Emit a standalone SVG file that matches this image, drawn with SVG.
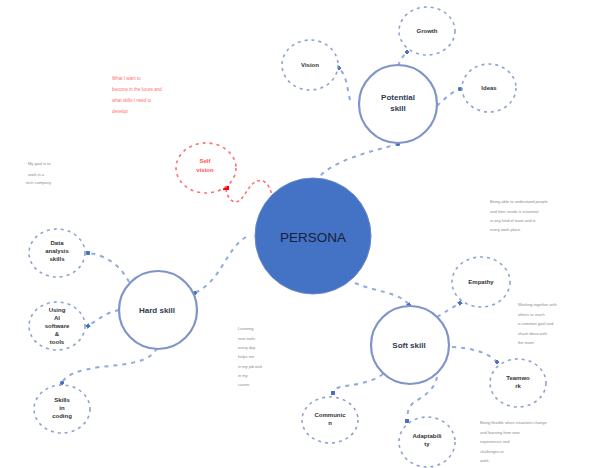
<svg xmlns="http://www.w3.org/2000/svg" width="593" height="468" viewBox="0 0 593 468">
<defs>
<marker id="m" viewBox="0 0 4 4" refX="2" refY="2" markerWidth="4" markerHeight="4" markerUnits="userSpaceOnUse" orient="auto"><rect width="4" height="4" fill="#4472C4"/></marker>
<marker id="mr" viewBox="0 0 4 6" refX="2" refY="3" markerWidth="4" markerHeight="6" markerUnits="userSpaceOnUse" orient="auto"><rect width="4" height="6" fill="#FF0000"/></marker>
</defs>
<style>
.big{fill:#fff;stroke:#7F95C8;stroke-width:2.2}
.small{fill:#fff;stroke:#8FA3CC;stroke-width:1.6;stroke-dasharray:3 4}
.red{fill:#fff;stroke:#FF7070;stroke-width:1.6;stroke-dasharray:3 4}
.c{fill:none;stroke:#8FAADC;stroke-width:2;stroke-dasharray:4 5;marker-end:url(#m)}
.cr{fill:none;stroke:#FF7070;stroke-width:1.6;stroke-dasharray:3 3}
.t{font-family:"Liberation Sans",Arial,sans-serif;text-anchor:middle;fill:#333;font-size:6px;font-weight:bold}
.tb{font-family:"Liberation Sans",Arial,sans-serif;text-anchor:middle;fill:#2F3B52;font-size:8px;font-weight:bold}
.n{font-family:"Liberation Sans",Arial,sans-serif;fill:#8A8A8A;font-size:4px}
.nr{font-family:"Liberation Sans",Arial,sans-serif;fill:#FF7070;font-size:4.5px}
</style>
<g id="connectors">
<path class="c" d="M315,182 C330,160 370,152 398,144"/>
<path class="c" d="M350,100 C347,88 347,76 339,68"/>
<path class="c" d="M398,66 C400,60 403,56 407,52"/>
<path class="c" d="M437,106 C445,98 452,92 460,89"/>
<path class="c" d="M246,237 C225,250 222,280 195,293"/>
<path class="c" d="M129,282 C122,268 108,255 88,253"/>
<path class="c" d="M119,310 C108,312 100,318 88,326"/>
<path class="c" d="M157,348 C150,362 130,364 100,367 C80,370 66,374 62,383"/>
<path class="c" d="M355,283 C375,292 400,292 409,305"/>
<path class="c" d="M437,317 C445,312 452,308 460,303"/>
<path class="c" d="M452,347 C472,348 487,352 497,362"/>
<path class="c" d="M383,374 C370,384 350,385 340,387 C335,389 333,390 333,393"/>
<path class="c" d="M437,377 C434,392 420,398 413,403 C408,408 407,414 407,421"/>
<path class="cr" d="M272,199 C272,188 265,178 257,181 C247,185 245,200 236,202 C230,202 226,194 226,188" marker-end="url(#mr)"/>
</g>
<g id="persona">
<circle cx="313" cy="236" r="58" fill="#4472C4" stroke="#6A88C8" stroke-width="1"/>
<text x="313" y="242" font-family="Liberation Sans,Arial,sans-serif" font-size="13.5" text-anchor="middle" fill="#15213A">PERSONA</text>
</g>
<g id="potential">
<circle class="big" cx="398" cy="104" r="39"/>
<text class="tb" x="398" y="100">Potential</text>
<text class="tb" x="398" y="111">skill</text>
</g>
<g id="pot-top"><ellipse class="small" cx="427" cy="31" rx="28" ry="24"/><text class="t" x="427" y="33">Growth</text></g>
<g id="pot-left"><ellipse class="small" cx="310" cy="65" rx="28" ry="25"/><text class="t" x="310" y="67">Vision</text></g>
<g id="pot-right"><ellipse class="small" cx="489" cy="88" rx="27" ry="24"/><text class="t" x="489" y="90">Ideas</text></g>
<g id="hard">
<circle class="big" cx="158" cy="310" r="39"/>
<text class="tb" x="157" y="313">Hard skill</text>
</g>
<g id="hard-1"><ellipse class="small" cx="57" cy="253" rx="28" ry="24"/>
<text class="t" x="57" y="245">Data</text><text class="t" x="57" y="253">analysis</text><text class="t" x="57" y="261">skills</text></g>
<g id="hard-2"><ellipse class="small" cx="57" cy="326" rx="28" ry="24"/>
<text class="t" x="57" y="312">Using</text><text class="t" x="57" y="320">AI</text><text class="t" x="57" y="328">software</text><text class="t" x="57" y="336">&amp;</text><text class="t" x="57" y="344">tools</text></g>
<g id="hard-3"><ellipse class="small" cx="62" cy="409" rx="28" ry="24"/>
<text class="t" x="62" y="402">Skills</text><text class="t" x="62" y="410">in</text><text class="t" x="62" y="418">coding</text></g>
<g id="soft">
<circle class="big" cx="410" cy="345" r="39"/>
<text class="tb" x="409" y="348">Soft skill</text>
</g>
<g id="soft-1"><ellipse class="small" cx="481" cy="282" rx="29" ry="25"/><text class="t" x="481" y="284">Empathy</text></g>
<g id="soft-2"><ellipse class="small" cx="518" cy="383" rx="28" ry="24"/><text class="t" x="518" y="380">Teamwo</text><text class="t" x="518" y="388">rk</text></g>
<g id="soft-3"><ellipse class="small" cx="330" cy="420" rx="28" ry="23"/><text class="t" x="330" y="417">Communic</text><text class="t" x="330" y="425">n</text></g>
<g id="soft-4"><ellipse class="small" cx="427" cy="442" rx="28" ry="25"/><text class="t" x="427" y="438">Adaptabili</text><text class="t" x="427" y="446">ty</text></g>
<g id="self">
<ellipse class="red" cx="206" cy="168" rx="30" ry="25"/>
<text x="205" y="163" font-family="Liberation Sans,Arial,sans-serif" font-size="6" font-weight="bold" text-anchor="middle" fill="#FF5050">Self</text>
<text x="205" y="172" font-family="Liberation Sans,Arial,sans-serif" font-size="6" font-weight="bold" text-anchor="middle" fill="#FF5050">vision</text>
</g>
<g id="notes">
<text class="nr" x="112" y="80">What I want to</text>
<text class="nr" x="112" y="91">become in the future and</text>
<text class="nr" x="112" y="102">what skills I need to</text>
<text class="nr" x="112" y="113">develop</text>
<text class="n" x="28" y="165">My goal is to</text>
<text class="n" x="28" y="176">work in a</text>
<text class="n" x="26" y="184">tech company</text>
<text class="n" x="490" y="203">Being able to understand people</text>
<text class="n" x="490" y="213">and their needs is essential</text>
<text class="n" x="490" y="222">in any kind of team and in</text>
<text class="n" x="490" y="231">every work place.</text>
<text class="n" x="238" y="330">Learning</text>
<text class="n" x="238" y="340">new tools</text>
<text class="n" x="238" y="349">every day</text>
<text class="n" x="238" y="358">helps me</text>
<text class="n" x="238" y="368">in my job and</text>
<text class="n" x="238" y="377">in my</text>
<text class="n" x="238" y="386">career.</text>
<text class="n" x="518" y="306">Working together with</text>
<text class="n" x="518" y="316">others to reach</text>
<text class="n" x="518" y="325">a common goal and</text>
<text class="n" x="518" y="335">share ideas with</text>
<text class="n" x="518" y="344">the team.</text>
<text class="n" x="480" y="424">Being flexible when situations change</text>
<text class="n" x="480" y="434">and learning from new</text>
<text class="n" x="480" y="443">experiences and</text>
<text class="n" x="480" y="453">challenges at</text>
<text class="n" x="480" y="462">work.</text>
</g>
</svg>
